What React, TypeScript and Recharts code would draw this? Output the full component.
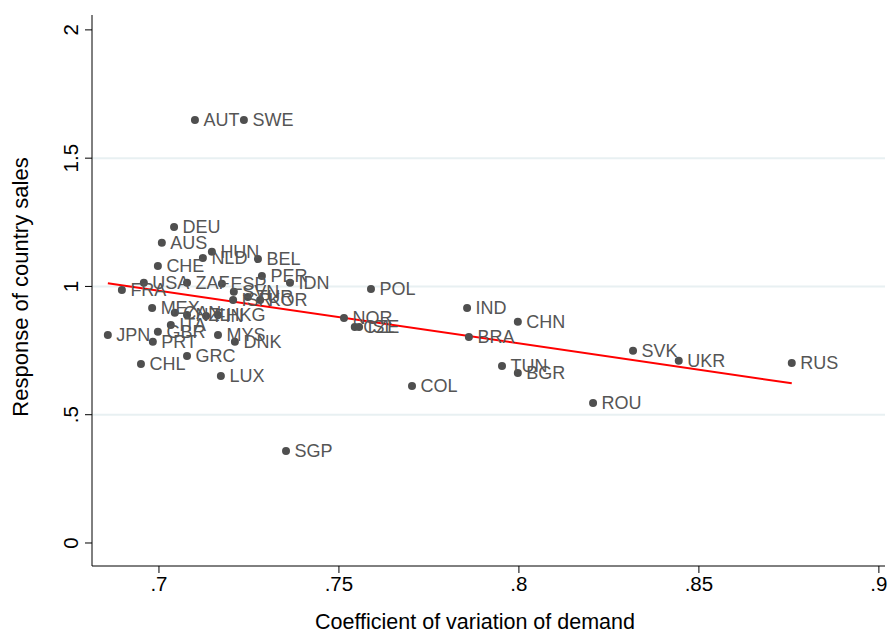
import React from "react";
import {
  LabelList,
  ReferenceLine,
  Scatter,
  ScatterChart,
  XAxis,
  YAxis,
  Label,
} from "recharts";

// country codes, x = coefficient of variation, y = response of sales
const countries = [
  "AUT", "SWE", "DEU", "AUS", "HUN", "NLD", "BEL", "CHE", "PER", "IDN",
  "USA", "ZAF", "ESP", "FRA", "SVN", "ISR", "TUR", "KOR", "MEX", "CAN",
  "NZL", "FIN", "HKG", "ITA", "GBR", "JPN", "MYS", "PRT", "DNK", "GRC",
  "CHL", "LUX", "SGP", "COL", "POL", "NOR", "CZE", "ISL", "IND", "CHN",
  "BRA", "TUN", "BGR", "ROU", "SVK", "UKR", "RUS",
];
const cvDemand = [
  0.71, 0.7236, 0.7042, 0.7008, 0.7147, 0.7122, 0.7275, 0.6997, 0.7286, 0.7364,
  0.6958, 0.7078, 0.7175, 0.6897, 0.7208, 0.7206, 0.7247, 0.7281, 0.6981, 0.7044,
  0.7078, 0.7131, 0.7164, 0.7033, 0.6997, 0.6858, 0.7164, 0.6983, 0.7211, 0.7078,
  0.695, 0.7172, 0.7353, 0.7703, 0.7589, 0.7514, 0.7544, 0.7556, 0.7856, 0.7997,
  0.7861, 0.7953, 0.7997, 0.8206, 0.8317, 0.8444, 0.8758,
];
const salesResponse = [
  1.649, 1.649, 1.232, 1.17, 1.135, 1.111, 1.107, 1.08, 1.041, 1.014,
  1.014, 1.014, 1.01, 0.986, 0.979, 0.947, 0.959, 0.947, 0.916, 0.897,
  0.889, 0.885, 0.889, 0.85, 0.823, 0.811, 0.811, 0.784, 0.784, 0.729,
  0.698, 0.651, 0.359, 0.612, 0.99, 0.877, 0.842, 0.842, 0.916, 0.862,
  0.803, 0.69, 0.663, 0.546, 0.749, 0.71, 0.702,
];

// fitted line end points
const fitX = [0.6858, 0.8758];
const fitY = [1.012, 0.6225];

const xTicks = [0.7, 0.75, 0.8, 0.85, 0.9];
const yTicks = [0, 0.5, 1, 1.5, 2];
const gridValues = [0.5, 1, 1.5];

const points = countries.map((name, i) => ({
  name,
  x: cvDemand[i],
  y: salesResponse[i],
}));

const fmt = (v: number) => String(v).replace(/^0(?=\.)/, "");

const FONT = "'Liberation Sans', Arial, Helvetica, sans-serif";

function YTick({ x, y, payload }: any) {
  const bx = x - 5;
  return (
    <text
      x={bx}
      y={y}
      transform={`rotate(-90, ${bx}, ${y})`}
      textAnchor="middle"
      fontSize={20.5}
      fill="#000"
      fontFamily={FONT}
    >
      {fmt(payload.value)}
    </text>
  );
}

function XTick({ x, y, payload }: any) {
  return (
    <text
      x={x}
      y={y + 16}
      textAnchor="middle"
      fontSize={20.5}
      fill="#000"
      fontFamily={FONT}
    >
      {fmt(payload.value)}
    </text>
  );
}

const Dot = ({ cx, cy }: any) => <circle cx={cx} cy={cy} r={4} fill="#4f4f4f" />;

export default function App() {
  return (
    <div style={{ position: "absolute", left: 0, top: 0, background: "#fff" }}>
      <ScatterChart
        width={890}
        height={633}
        margin={{ top: 15, right: 5, bottom: 0, left: 0 }}
        style={{ fontFamily: FONT }}
      >
        {gridValues.map((v) => (
          <ReferenceLine key={v} y={v} stroke="#e8f0f2" strokeWidth={2} />
        ))}
        <XAxis
          type="number"
          dataKey="x"
          domain={[0.6814, 0.9017]}
          allowDataOverflow
          ticks={xTicks}
          tick={<XTick />}
          tickSize={7}
          tickMargin={2}
          height={67}
          stroke="#000"
        >
          <Label
            content={() => (
              <text
                x={475}
                y={629}
                textAnchor="middle"
                fontSize={21.5}
                fill="#000"
                fontFamily={FONT}
              >
                Coefficient of variation of demand
              </text>
            )}
          />
        </XAxis>
        <YAxis
          type="number"
          dataKey="y"
          domain={[-0.0897, 2.058]}
          allowDataOverflow
          ticks={yTicks}
          tick={<YTick />}
          tickSize={7}
          tickMargin={2}
          width={92}
          stroke="#000"
        >
          <Label
            content={() => (
              <text
                x={28}
                y={287}
                transform="rotate(-90, 28, 287)"
                textAnchor="middle"
                fontSize={22}
                fill="#000"
                fontFamily={FONT}
              >
                Response of country sales
              </text>
            )}
          />
        </YAxis>
        <Scatter data={points} shape={<Dot />} isAnimationActive={false}>
          <LabelList
            dataKey="name"
            position="right"
            offset={4}
            fill="#555555"
            fontSize={18}
            fontFamily={FONT}
          />
        </Scatter>
        <ReferenceLine
          segment={[
            { x: fitX[0], y: fitY[0] },
            { x: fitX[1], y: fitY[1] },
          ]}
          stroke="#ff0000"
          strokeWidth={2}
        />
      </ScatterChart>
    </div>
  );
}
